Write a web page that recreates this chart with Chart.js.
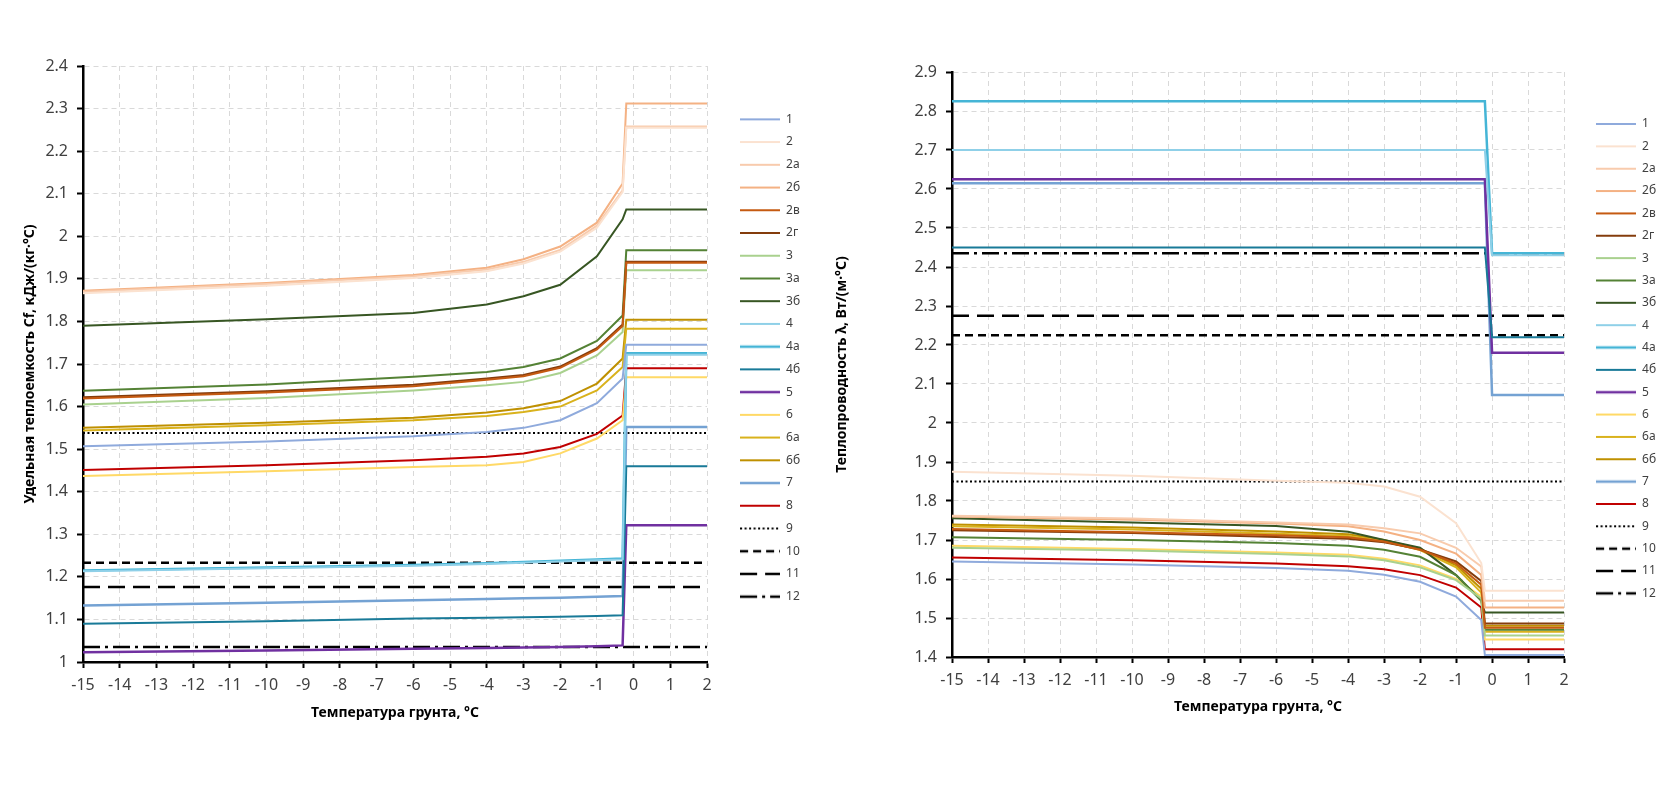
<!DOCTYPE html>
<html>
<head>
<meta charset="utf-8">
<script src="https://cdn.jsdelivr.net/npm/chart.js@4/dist/chart.umd.min.js"></script>
<style>
  html, body { margin: 0; background: #fff; }
  #wrap { position: relative; width: 1670px; height: 799px; overflow: hidden; }
  #cf { position: absolute; left: 0; top: 0; }
  #lm { position: absolute; left: 820px; top: 0; }
</style>
</head>
<body>
<div id="wrap">
  <canvas id="cf" width="820" height="799" style="width:820px;height:799px"></canvas>
  <canvas id="lm" width="850" height="799" style="width:850px;height:799px"></canvas>
</div>
<script>
'use strict';

// ── data ────────────────────────────────────────────────────────────────────

const TEMP  = [-15, -10, -6, -4, -3, -2, -1, -0.3, -0.2, 0, 2];
const NAMES = ['1', '2', '2а', '2б', '2в', '2г', '3', '3а', '3б', '4', '4а', '4б',
               '5', '6', '6а', '6б', '7', '8', '9', '10', '11', '12'];

// heat capacity Cf, kJ/(kg·°C)
const cf1   = [1.507, 1.518, 1.530, 1.540, 1.550, 1.568, 1.608, 1.666, 1.745, 1.745, 1.745];
const cf2   = [1.866, 1.884, 1.902, 1.918, 1.936, 1.964, 2.020, 2.104, 2.255, 2.255, 2.255];
const cf2a  = [1.870, 1.888, 1.906, 1.922, 1.940, 1.968, 2.025, 2.108, 2.258, 2.258, 2.258];
const cf2b  = [1.872, 1.890, 1.909, 1.926, 1.946, 1.976, 2.032, 2.124, 2.312, 2.312, 2.312];
const cf2v  = [1.619, 1.633, 1.648, 1.663, 1.671, 1.691, 1.734, 1.789, 1.938, 1.938, 1.938];
const cf2g  = [1.622, 1.636, 1.651, 1.666, 1.674, 1.694, 1.737, 1.793, 1.940, 1.940, 1.940];
const cf3   = [1.605, 1.620, 1.638, 1.650, 1.658, 1.679, 1.720, 1.775, 1.920, 1.920, 1.920];
const cf3a  = [1.637, 1.652, 1.670, 1.681, 1.693, 1.713, 1.754, 1.814, 1.967, 1.967, 1.967];
const cf3b  = [1.790, 1.805, 1.820, 1.840, 1.859, 1.886, 1.953, 2.040, 2.063, 2.063, 2.063];
const cf4   = [1.213, 1.220, 1.226, 1.230, 1.233, 1.236, 1.239, 1.241, 1.722, 1.722, 1.722];
const cf4a  = [1.215, 1.222, 1.228, 1.232, 1.235, 1.238, 1.241, 1.243, 1.725, 1.725, 1.725];
const cf4b  = [1.090, 1.096, 1.102, 1.104, 1.105, 1.106, 1.108, 1.110, 1.460, 1.460, 1.460];
const cf5   = [1.023, 1.027, 1.031, 1.033, 1.034, 1.035, 1.037, 1.039, 1.321, 1.321, 1.321];
const cf6   = [1.437, 1.448, 1.458, 1.462, 1.470, 1.490, 1.525, 1.568, 1.669, 1.669, 1.669];
const cf6a  = [1.544, 1.556, 1.568, 1.578, 1.587, 1.600, 1.638, 1.693, 1.783, 1.783, 1.783];
const cf6b  = [1.550, 1.562, 1.574, 1.586, 1.596, 1.613, 1.654, 1.713, 1.804, 1.804, 1.804];
const cf7   = [1.133, 1.139, 1.145, 1.148, 1.150, 1.151, 1.153, 1.155, 1.552, 1.552, 1.552];
const cf8   = [1.451, 1.462, 1.474, 1.482, 1.490, 1.505, 1.536, 1.579, 1.690, 1.690, 1.690];
const cf9   = [1.538, 1.538, 1.538, 1.538, 1.538, 1.538, 1.538, 1.538, 1.538, 1.538, 1.538];
const cf10  = [1.233, 1.233, 1.233, 1.233, 1.233, 1.233, 1.233, 1.233, 1.233, 1.233, 1.233];
const cf11  = [1.176, 1.176, 1.176, 1.176, 1.176, 1.176, 1.176, 1.176, 1.176, 1.176, 1.176];
const cf12  = [1.035, 1.035, 1.035, 1.035, 1.035, 1.035, 1.035, 1.035, 1.035, 1.035, 1.035];

// thermal conductivity λ, W/(m·°C)
const lm1   = [1.645, 1.637, 1.628, 1.621, 1.611, 1.593, 1.555, 1.495, 1.405, 1.405, 1.405];
const lm2   = [1.875, 1.865, 1.852, 1.847, 1.837, 1.811, 1.743, 1.641, 1.570, 1.570, 1.570];
const lm2a  = [1.762, 1.755, 1.745, 1.740, 1.730, 1.717, 1.680, 1.632, 1.544, 1.544, 1.544];
const lm2b  = [1.760, 1.752, 1.742, 1.735, 1.722, 1.700, 1.665, 1.610, 1.527, 1.527, 1.527];
const lm2v  = [1.728, 1.720, 1.712, 1.707, 1.696, 1.675, 1.640, 1.585, 1.475, 1.475, 1.475];
const lm2g  = [1.725, 1.718, 1.708, 1.703, 1.694, 1.676, 1.645, 1.595, 1.486, 1.486, 1.486];
const lm3   = [1.680, 1.673, 1.664, 1.658, 1.648, 1.630, 1.597, 1.550, 1.455, 1.455, 1.455];
const lm3a  = [1.707, 1.700, 1.692, 1.685, 1.675, 1.657, 1.610, 1.545, 1.470, 1.470, 1.470];
const lm3b  = [1.756, 1.745, 1.736, 1.721, 1.700, 1.680, 1.610, 1.545, 1.514, 1.514, 1.514];
const lm4   = [2.700, 2.700, 2.700, 2.700, 2.700, 2.700, 2.700, 2.700, 2.700, 2.430, 2.430];
const lm4a  = [2.825, 2.825, 2.825, 2.825, 2.825, 2.825, 2.825, 2.825, 2.825, 2.435, 2.435];
const lm4b  = [2.450, 2.450, 2.450, 2.450, 2.450, 2.450, 2.450, 2.450, 2.450, 2.220, 2.220];
const lm5   = [2.625, 2.625, 2.625, 2.625, 2.625, 2.625, 2.625, 2.625, 2.625, 2.180, 2.180];
const lm6   = [1.685, 1.677, 1.668, 1.662, 1.652, 1.635, 1.600, 1.555, 1.445, 1.445, 1.445];
const lm6a  = [1.735, 1.727, 1.716, 1.710, 1.697, 1.674, 1.630, 1.565, 1.465, 1.465, 1.465];
const lm6b  = [1.740, 1.732, 1.722, 1.715, 1.700, 1.678, 1.635, 1.575, 1.480, 1.480, 1.480];
const lm7   = [2.615, 2.615, 2.615, 2.615, 2.615, 2.615, 2.615, 2.615, 2.615, 2.072, 2.072];
const lm8   = [1.655, 1.648, 1.640, 1.633, 1.625, 1.610, 1.578, 1.527, 1.420, 1.420, 1.420];
const lm9   = [1.850, 1.850, 1.850, 1.850, 1.850, 1.850, 1.850, 1.850, 1.850, 1.850, 1.850];
const lm10  = [2.225, 2.225, 2.225, 2.225, 2.225, 2.225, 2.225, 2.225, 2.225, 2.225, 2.225];
const lm11  = [2.275, 2.275, 2.275, 2.275, 2.275, 2.275, 2.275, 2.275, 2.275, 2.275, 2.275];
const lm12  = [2.435, 2.435, 2.435, 2.435, 2.435, 2.435, 2.435, 2.435, 2.435, 2.435, 2.435];

const CF_ROWS = [cf1, cf2, cf2a, cf2b, cf2v, cf2g, cf3, cf3a, cf3b, cf4, cf4a, cf4b,
                 cf5, cf6, cf6a, cf6b, cf7, cf8, cf9, cf10, cf11, cf12];
const LM_ROWS = [lm1, lm2, lm2a, lm2b, lm2v, lm2g, lm3, lm3a, lm3b, lm4, lm4a, lm4b,
                 lm5, lm6, lm6a, lm6b, lm7, lm8, lm9, lm10, lm11, lm12];

// ── styles ──────────────────────────────────────────────────────────────────

const COLORS = ['#8faadc', '#fbe2d0', '#f8cbad', '#f4b183', '#c55a11', '#843c0c',
                '#a9d18e', '#548235', '#375623', '#8fd0e8', '#45b5d6', '#197a98',
                '#7030a0', '#ffd966', '#d9b21c', '#bf9000', '#74a2d3', '#c00000',
                '#000', '#000', '#000', '#000'];
const WIDTHS = [2, 2, 2, 2, 2, 2, 2, 2, 2, 2, 2.5, 2, 2.5, 2, 2, 2, 2.5, 2, 2, 2.5, 2.5, 2.5];
const DASHES = {18: [2, 2.5], 19: [8, 5], 20: [17, 8], 21: [17, 5, 3, 5]};

const FONT = "'Noto Sans', sans-serif";

// legend sample: a short stroke in the series style, used as pointStyle image
function legendSample(color, width, dash) {
  const c = document.createElement('canvas');
  c.width = 40; c.height = 6;
  const g = c.getContext('2d');
  g.strokeStyle = color; g.lineWidth = width; g.setLineDash(dash);
  g.beginPath(); g.moveTo(0, 3); g.lineTo(40, 3); g.stroke();
  return c;
}

// ── chart ───────────────────────────────────────────────────────────────────

function makeChart(id, rows, o) {
  const datasets = NAMES.map((name, i) => ({
    label: name,
    data: TEMP.map((t, j) => ({ x: t, y: rows[i][j] })),
    borderColor: COLORS[i], backgroundColor: COLORS[i],
    borderWidth: WIDTHS[i], borderDash: DASHES[i] || [],
    pointStyle: legendSample(COLORS[i], WIDTHS[i], DASHES[i] || []),
    pointRadius: 0, pointHoverRadius: 0, fill: false, tension: 0,
  }));

  const axisTitle = (text, pad) => ({
    display: true, text, color: '#000',
    font: { family: FONT, size: 14, weight: 'bold' }, padding: pad,
  });
  const tickFont = { family: FONT, size: 16 };

  return new Chart(document.getElementById(id), {
    type: 'line',
    data: { datasets },
    options: {
      responsive: false, animation: false,
      layout: { padding: o.padding },
      plugins: {
        tooltip: { enabled: false },
        legend: {
          position: 'right', align: 'start',
          title: { display: true, text: ' ', font: { size: 12 },
                   padding: { top: o.legendTitlePad, bottom: 0 } },
          labels: {
            usePointStyle: true, pointStyleWidth: 40,
            padding: o.legendPad, color: '#404040',
            font: { family: FONT, size: 12 },
          },
        },
      },
      scales: {
        x: {
          type: 'linear', min: -15, max: 2,
          ticks: { stepSize: 1, color: '#404040', font: tickFont, padding: 8 },
          grid: { color: '#d9d9d9', tickLength: 6, tickColor: '#000', tickWidth: 2 },
          border: { color: '#000', width: 2.5, dash: [5, 4] },
          title: axisTitle('Температура грунта, °C', { top: 0, bottom: o.xTitlePad }),
          afterFit: s => { s.height = 70; },
        },
        y: {
          type: 'linear', min: o.yMin, max: o.yMax,
          ticks: { stepSize: 0.1, color: '#404040', font: tickFont, padding: 9,
                   callback: v => String(Math.round(v * 10) / 10) },
          grid: { color: '#d9d9d9', tickLength: 6, tickColor: '#000', tickWidth: 2 },
          border: { color: '#000', width: 2.5, dash: [5, 4] },
          title: axisTitle(o.yTitle, { top: o.yTitlePad, bottom: 0 }),
          afterFit: s => { s.width = o.yWidth; },
        },
        gap: {
          type: 'linear', position: 'right', display: true,
          grid: { display: false }, border: { display: false },
          ticks: { display: false },
          afterFit: s => { s.width = o.gap; },
        },
      },
    },
  });
}

makeChart('cf', CF_ROWS, {
  yMin: 1, yMax: 2.4, yWidth: 83, yTitlePad: 21.6, xTitlePad: 10.6,
  yTitle: 'Удельная теплоемкость Cf, кДж/(кг·°C)',
  padding: { left: 0, top: 66, right: 9.9, bottom: 67 },
  legendPad: 10.73, legendTitlePad: 22.2, gap: 22.3,
});

makeChart('lm', LM_ROWS, {
  yMin: 1.4, yMax: 2.9, yWidth: 132, yTitlePad: 13.6, xTitlePad: 11.6,
  yTitle: 'Теплопроводность λ, Вт/(м·°C)',
  padding: { left: 0, top: 72, right: 3.9, bottom: 72 },
  legendPad: 10.35, legendTitlePad: 21.25, gap: 21.65,
});
</script>
</body>
</html>
